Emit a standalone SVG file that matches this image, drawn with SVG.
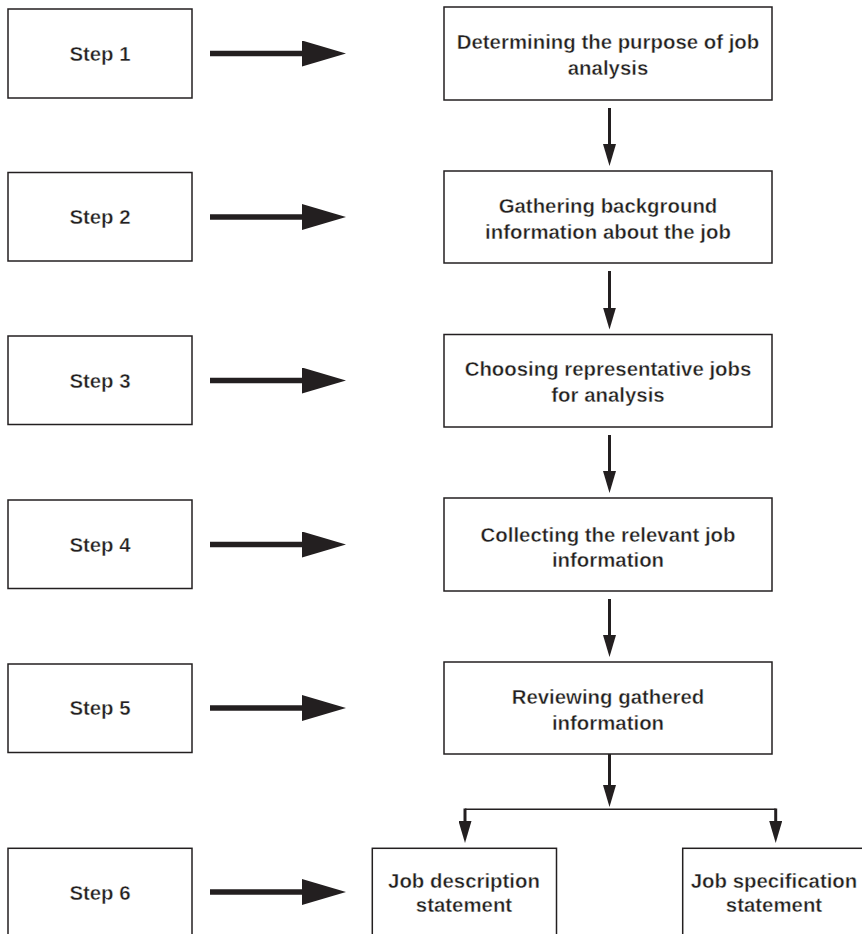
<svg xmlns="http://www.w3.org/2000/svg" width="862" height="934" viewBox="0 0 862 934">
  <style>
    .box { fill: #ffffff; stroke: #231f20; stroke-width: 1.5; }
    .label { font-family: "Liberation Sans", Arial, sans-serif; font-size: 20.4px; font-weight: bold; fill: #231f20; stroke: #ffffff; stroke-width: 0.4px; text-anchor: middle; }
    .thick { stroke: #231f20; stroke-width: 5.3; fill: none; }
    .thin { stroke: #231f20; stroke-width: 3; fill: none; }
    .branch { stroke: #231f20; stroke-width: 1.6; fill: none; }
  </style>
  <defs>
    <marker id="bigHead" markerUnits="userSpaceOnUse" markerWidth="44" markerHeight="26" refX="1" refY="13" orient="auto">
      <path d="M0,0 L44,13 L0,26 Z" fill="#231f20"/>
    </marker>
    <marker id="smallHead" markerUnits="userSpaceOnUse" markerWidth="22" markerHeight="13" refX="1" refY="6.5" orient="auto">
      <path d="M0,0 L22,6.5 L0,13 Z" fill="#231f20"/>
    </marker>
  </defs>
  <rect width="862" height="934" fill="#ffffff"/>

  <!-- step labels -->
  <g id="step1"><rect class="box" x="8" y="9" width="184" height="89"/><text class="label" x="100" y="61">Step 1</text></g>
  <g id="step2"><rect class="box" x="8" y="172.5" width="184" height="88.5"/><text class="label" x="100" y="224">Step 2</text></g>
  <g id="step3"><rect class="box" x="8" y="336" width="184" height="88.5"/><text class="label" x="100" y="387.5">Step 3</text></g>
  <g id="step4"><rect class="box" x="8" y="500" width="184" height="88.5"/><text class="label" x="100" y="551.5">Step 4</text></g>
  <g id="step5"><rect class="box" x="8" y="664" width="184" height="88.5"/><text class="label" x="100" y="715">Step 5</text></g>
  <g id="step6"><rect class="box" x="8" y="848.3" width="184" height="100"/><text class="label" x="100" y="899.5">Step 6</text></g>

  <!-- process stages -->
  <g id="purpose"><rect class="box" x="444" y="7" width="328" height="93"/>
    <text class="label" x="608" y="49">Determining the purpose of job</text>
    <text class="label" x="608" y="75">analysis</text></g>
  <g id="background"><rect class="box" x="444" y="171" width="328" height="92"/>
    <text class="label" x="608" y="212.5">Gathering background</text>
    <text class="label" x="608" y="239">information about the job</text></g>
  <g id="representative"><rect class="box" x="444" y="334.5" width="328" height="92.5"/>
    <text class="label" x="608" y="376">Choosing representative jobs</text>
    <text class="label" x="608" y="402">for analysis</text></g>
  <g id="collecting"><rect class="box" x="444" y="498" width="328" height="93"/>
    <text class="label" x="608" y="541.5">Collecting the relevant job</text>
    <text class="label" x="608" y="567">information</text></g>
  <g id="reviewing"><rect class="box" x="444" y="662" width="328" height="92"/>
    <text class="label" x="608" y="703.5">Reviewing gathered</text>
    <text class="label" x="608" y="729.5">information</text></g>
  <g id="description"><rect class="box" x="372.3" y="848.3" width="184.2" height="100"/>
    <text class="label" x="464" y="888">Job description</text>
    <text class="label" x="464" y="912">statement</text></g>
  <g id="specification"><rect class="box" x="682.7" y="848.3" width="184" height="100"/>
    <text class="label" x="774" y="888">Job specification</text>
    <text class="label" x="774" y="912">statement</text></g>

  <!-- connectors -->
  <g id="connectors">
    <line class="thick" x1="210" y1="53.5" x2="303" y2="53.5" marker-end="url(#bigHead)"/>
    <line class="thick" x1="210" y1="217" x2="303" y2="217" marker-end="url(#bigHead)"/>
    <line class="thick" x1="210" y1="380.5" x2="303" y2="380.5" marker-end="url(#bigHead)"/>
    <line class="thick" x1="210" y1="544.5" x2="303" y2="544.5" marker-end="url(#bigHead)"/>
    <line class="thick" x1="210" y1="708" x2="303" y2="708" marker-end="url(#bigHead)"/>
    <line class="thick" x1="210" y1="892" x2="303" y2="892" marker-end="url(#bigHead)"/>

    <line class="thin" x1="609.5" y1="108" x2="609.5" y2="145" marker-end="url(#smallHead)"/>
    <line class="thin" x1="609.5" y1="271" x2="609.5" y2="308.5" marker-end="url(#smallHead)"/>
    <line class="thin" x1="609.5" y1="435" x2="609.5" y2="472" marker-end="url(#smallHead)"/>
    <line class="thin" x1="609.5" y1="599" x2="609.5" y2="636" marker-end="url(#smallHead)"/>
    <line class="thin" x1="609.5" y1="754" x2="609.5" y2="786" marker-end="url(#smallHead)"/>

    <path class="branch" d="M465,809.3 H775.7"/>
    <line class="thin" x1="465" y1="808.5" x2="465" y2="822" marker-end="url(#smallHead)"/>
    <line class="thin" x1="775.7" y1="808.5" x2="775.7" y2="822" marker-end="url(#smallHead)"/>
  </g>
</svg>
